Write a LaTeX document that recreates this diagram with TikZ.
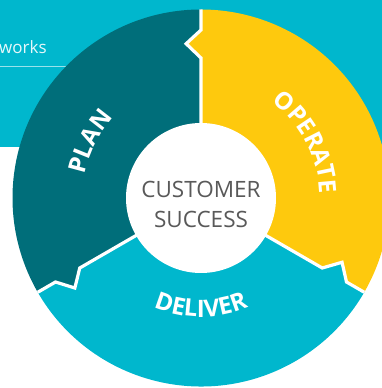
\documentclass[tikz,border=0pt]{standalone}
\usepackage{fontspec}
\setmainfont{Open Sans}
\usetikzlibrary{calc,decorations.text}
\definecolor{bannercol}{HTML}{00B7CD}
\definecolor{plancol}{HTML}{006E7A}
\definecolor{opcol}{HTML}{FEC90D}
\definecolor{delcol}{HTML}{00B7CD}
\definecolor{txtgray}{HTML}{595959}
\newcommand\lblfont{\fontsize{24}{24}\selectfont\bfseries}
\begin{document}
\begin{tikzpicture}[x=1pt,y=1pt,
  sepline/.style={draw=white, line width=3.2pt, line join=miter},
  arclabel/.style={decorate, decoration={text along path, text color=white, text align=center, text={|\lblfont|#1}}},
  hubtext/.style={text=txtgray, font=\fontsize{22.5}{22.5}\selectfont, inner sep=0pt, anchor=base},
]
\useasboundingbox (0,0) rectangle (382,388);
\clip (0,0) rectangle (382,388);
\fill[bannercol] (0,241) rectangle (382,388);
\coordinate (lineL) at (0,321.5);
\coordinate (lineR) at (120,321.5);
\draw[white, opacity=0.6, line width=0.8pt] (lineL) -- (lineR);
\node[anchor=base west, inner sep=0pt, text=white, opacity=0.9, font=\fontsize{17}{17}\selectfont] (works) at (-1,334.7) {works};
\coordinate (C) at (201,190);
\def\Ro{188.5}
% sectors
\foreach \a/\col in {-30/opcol, 90/plancol, 210/delcol}{
  \pgfmathsetmacro\b{\a+120}
  \fill[\col] (C) -- ($(C)+(\a:140)$) -- ($(C)+(\a+5.5:155)$) -- ($(C)+(\a:168)$) -- ($(C)+(\a:\Ro)$)
     arc[start angle=\a, end angle=\b, radius=\Ro]
     -- ($(C)+(\b:168)$) -- ($(C)+(\b+5.5:155)$) -- ($(C)+(\b:140)$) -- cycle;
}
% separators
\foreach \a in {-30,90,210}{
  \draw[sepline] ($(C)+(\a:60)$) -- ($(C)+(\a:140)$) -- ($(C)+(\a+5.5:155)$) -- ($(C)+(\a:168)$) -- ($(C)+(\a:\Ro)$);
}
% hub
\node[circle, fill=white, minimum size=150pt, inner sep=0pt] (hub) at (C) {};
\node[hubtext] (cust) at (201,190.7) {CUSTOMER};
\node[hubtext] (succ) at (201,160.7) {SUCCESS};
% labels
\path[arclabel=PLAN] ($(C)+(193:118.5)$) arc[start angle=193, end angle=113, radius=118.5];
\path[arclabel=OPERATE] ($(C)+(72.8:119)$) arc[start angle=72.8, end angle=-17.2, radius=119];
\path[arclabel=DELIVER] ($(C)+(220:119)$) arc[start angle=220, end angle=320, radius=119];
\end{tikzpicture}
\end{document}
